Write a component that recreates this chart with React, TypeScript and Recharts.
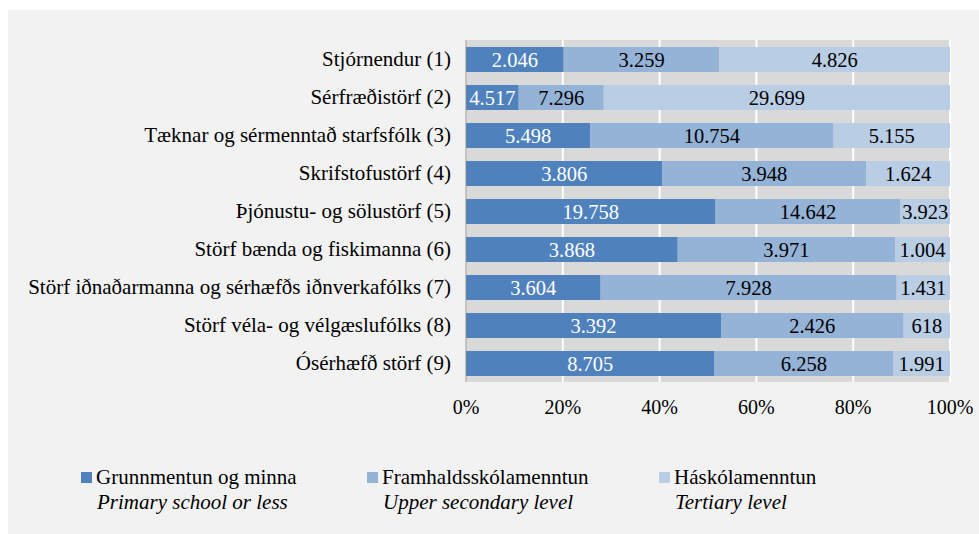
import { Bar, BarChart, CartesianGrid, LabelList, XAxis, YAxis } from "recharts";

const categories = [
  "Stjórnendur (1)",
  "Sérfræðistörf (2)",
  "Tæknar og sérmenntað starfsfólk (3)",
  "Skrifstofustörf (4)",
  "Þjónustu- og sölustörf (5)",
  "Störf bænda og fiskimanna (6)",
  "Störf iðnaðarmanna og sérhæfðs iðnverkafólks (7)",
  "Störf véla- og vélgæslufólks (8)",
  "Ósérhæfð störf  (9)",
];

const primary = [2046, 4517, 5498, 3806, 19758, 3868, 3604, 3392, 8705];
const upperSecondary = [3259, 7296, 10754, 3948, 14642, 3971, 7928, 2426, 6258];
const tertiary = [4826, 29699, 5155, 1624, 3923, 1004, 1431, 618, 1991];

const xTicks = [0, 0.2, 0.4, 0.6, 0.8, 1];

const series = [
  { key: "primary", name: "Grunnmentun og minna", en: "Primary school or less", color: "#4f81bd", text: "#ffffff" },
  { key: "upper", name: "Framhaldsskólamenntun", en: "Upper secondary level", color: "#95b3d7", text: "#000000" },
  { key: "tertiary", name: "Háskólamenntun", en: "Tertiary level", color: "#b9cde5", text: "#000000" },
];

const data = categories.map((label, i) => ({
  label,
  primary: primary[i],
  upper: upperSecondary[i],
  tertiary: tertiary[i],
}));

const FONT = '"Liberation Serif", serif';

// icelandic thousands separator
const fmt = (v: any) => String(v).replace(/\B(?=(\d{3})+(?!\d))/g, ".");

const legendLeft = [73, 359, 651];

export default function App() {
  return (
    <div
      style={{
        position: "absolute",
        left: 8,
        top: 10,
        width: 971,
        height: 524,
        background: "#f2f2f2",
        fontFamily: FONT,
      }}
    >
      <BarChart
        width={971}
        height={410}
        data={data}
        layout="vertical"
        stackOffset="expand"
        barSize={25}
        margin={{ top: 30, right: 29, bottom: 0, left: 0 }}
        style={{ fontFamily: FONT }}
      >
        <CartesianGrid horizontal={false} stroke="#ffffff" strokeWidth={2} fill="#d9d9d9" />
        <XAxis
          type="number"
          domain={[0, 1]}
          ticks={xTicks}
          tickFormatter={(v) => `${Math.round(v * 100)}%`}
          axisLine={false}
          tickLine={false}
          tickSize={0}
          tickMargin={18}
          height={38}
          tick={{ fill: "#000", fontSize: 20, fontFamily: FONT }}
        />
        <YAxis
          type="category"
          dataKey="label"
          width={458}
          axisLine={{ stroke: "#868686" }}
          tickLine={false}
          tickSize={0}
          tickMargin={15}
          interval={0}
          tick={{ fill: "#000", fontSize: 21, fontFamily: FONT }}
        />
        {series.map((s) => (
          <Bar key={s.key} dataKey={s.key} name={s.name} stackId="a" fill={s.color} isAnimationActive={false}>
            <LabelList
              dataKey={s.key}
              position="center"
              formatter={fmt}
              style={{ fill: s.text, fontSize: 20.5, fontFamily: FONT }}
            />
          </Bar>
        ))}
      </BarChart>
      {series.map((s, i) => (
        <div
          key={s.key}
          style={{ position: "absolute", left: legendLeft[i], top: 455, fontSize: 21, lineHeight: "25px", color: "#000" }}
        >
          <div style={{ display: "flex", alignItems: "center" }}>
            <span style={{ display: "inline-block", width: 11, height: 11, background: s.color, marginRight: 4 }} />
            <span>{s.name}</span>
          </div>
          <div style={{ fontStyle: "italic", paddingLeft: 16 }}>{s.en}</div>
        </div>
      ))}
    </div>
  );
}
